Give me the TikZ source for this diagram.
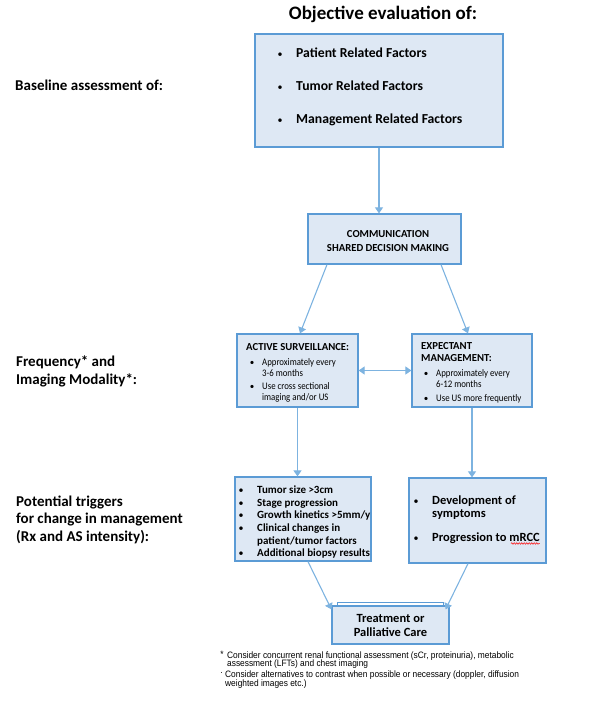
\documentclass[tikz,border=0pt]{standalone}
\usepackage{fontspec}
\setmainfont{Carlito}
\newfontfamily\narrowfont{Carlito}[FakeStretch=0.88]
\newfontfamily\notefont{Liberation Sans}[FakeStretch=0.9]
\usetikzlibrary{arrows.meta,decorations.pathmorphing}
\definecolor{boxfill}{HTML}{DEE8F4}
\definecolor{boxline}{HTML}{5B9BD5}
\definecolor{arrowc}{HTML}{7DB3E0}
\tikzset{
  box/.style={draw=boxline, fill=boxfill, line width=1.2pt, inner sep=0pt, rectangle},
  conn/.style={draw=arrowc, line width=1.1pt, -{Triangle[width=8pt,length=6pt]}},
  dconn/.style={draw=arrowc, line width=1.1pt, {Triangle[width=8pt,length=6pt]}-{Triangle[width=8pt,length=6pt]}},
  txt/.style={inner sep=0pt, text height=.95em, text depth=.15em, anchor=west},
  titletxt/.style={txt, anchor=center, font=\bfseries\fontsize{19}{22}\selectfont},
  side/.style={txt, font=\bfseries\fontsize{15}{18}\selectfont},
  item/.style={txt, font=\bfseries\fontsize{13.7}{16}\selectfont},
  ritem/.style={txt, font=\bfseries\fontsize{12.5}{15}\selectfont},
  bul/.style={txt, anchor=center, font=\fontsize{10}{12}\selectfont},
  head/.style={txt, font=\bfseries\fontsize{10.7}{12}\selectfont},
  small/.style={txt, font=\narrowfont\fontsize{10}{12}\selectfont},
  sbul/.style={txt, anchor=center, font=\fontsize{9}{12}\selectfont},
  trig/.style={txt, font=\bfseries\fontsize{11}{13}\selectfont},
  note/.style={txt, font=\notefont\fontsize{9.3}{9}\selectfont}
}
\begin{document}
\begin{tikzpicture}[x=1pt,y=-1pt]
\useasboundingbox (0,0) rectangle (594,721);

% title
\node[titletxt] (title) at (383,15) {Objective evaluation of:};

% side labels
\node[side] (s1) at (15,86) {Baseline assessment of:};
\node[side] (s2) at (16,362) {Frequency* and};
\node[side] (s3) at (16,380) {Imaging Modality*:};
\node[side] (s4) at (16,502) {Potential triggers};
\node[side] (s5) at (16,519.5) {for change in management};
\node[side] (s6) at (16,537) {(Rx and AS intensity):};

% boxes
\node[box, minimum width=248pt, minimum height=113pt] (topbox) at (379,90.5) {};
\node[box, minimum width=153pt, minimum height=50pt] (comm) at (384.5,239) {};
\node[box, minimum width=121pt, minimum height=73pt] (as) at (297.5,370.5) {};
\node[box, minimum width=120pt, minimum height=73pt] (em) at (472,370.5) {};
\node[box, minimum width=136pt, minimum height=84pt] (trigl) at (303,519) {};
\node[box, minimum width=137pt, minimum height=85pt] (trigr) at (477.5,520.5) {};
\draw[boxline, line width=0.8pt] (337,605) -- (337,602) -- (443,602) -- (443,605);
\node[box, minimum width=117pt, minimum height=38pt] (treat) at (390.5,625) {};

% top box items
\node[bul] (b1) at (280,53) {\textbullet};
\node[item] (i1) at (296,53) {Patient Related Factors};
\node[bul] (b2) at (280,86.5) {\textbullet};
\node[item] (i2) at (296,86.5) {Tumor Related Factors};
\node[bul] (b3) at (280,119) {\textbullet};
\node[item] (i3) at (296,119) {Management Related Factors};

% communication
\node[head, anchor=center] (c1) at (388,233) {COMMUNICATION};
\node[head, anchor=center] (c2) at (388,247) {SHARED DECISION MAKING};

% active surveillance
\node[head] (a0) at (246,346) {ACTIVE SURVEILLANCE:};
\node[sbul] (ab1) at (252,361) {\textbullet};
\node[small] (a1) at (262,361) {Approximately every};
\node[small] (a2) at (262,372) {3-6 months};
\node[sbul] (ab2) at (252,385) {\textbullet};
\node[small] (a3) at (262,385) {Use cross sectional};
\node[small] (a4) at (262,396) {imaging and/or US};

% expectant management
\node[head] (e0) at (421,345) {EXPECTANT};
\node[head] (e1) at (421,357) {MANAGEMENT:};
\node[sbul] (eb1) at (426,372) {\textbullet};
\node[small] (e2) at (436,372) {Approximately every};
\node[small] (e3) at (436,383) {6-12 months};
\node[sbul] (eb2) at (426,397) {\textbullet};
\node[small] (e4) at (436,397) {Use US more frequently};

% triggers left
\node[bul] (tb1) at (241,489.3) {\textbullet};
\node[trig] (t1) at (257,489.3) {Tumor size >3cm};
\node[bul] (tb2) at (241,502) {\textbullet};
\node[trig] (t2) at (257,502) {Stage progression};
\node[bul] (tb3) at (241,514.7) {\textbullet};
\node[trig] (t3) at (257,514.7) {Growth kinetics >5mm/y};
\node[bul] (tb4) at (241,527.4) {\textbullet};
\node[trig] (t4) at (257,527.4) {Clinical changes in};
\node[trig] (t5) at (257,540.1) {patient/tumor factors};
\node[bul] (tb6) at (241,552.8) {\textbullet};
\node[trig] (t6) at (257,552.8) {Additional biopsy results};

% triggers right
\node[bul] (rb1) at (416,500.7) {\textbullet};
\node[ritem] (r1) at (432,500.7) {Development of};
\node[ritem] (r2) at (432,513.5) {symptoms};
\node[bul] (rb2) at (416,537) {\textbullet};
\node[ritem] (r3) at (432,537) {Progression to mRCC};
\draw[red, line width=0.5pt, decorate, decoration={snake, amplitude=0.8pt, segment length=2.5pt}]
  ([xshift=-29pt, yshift=-2.5pt]r3.base east) -- ([yshift=-2.5pt]r3.base east);

% treatment
\node[ritem, anchor=center] (tr1) at (390.5,618) {Treatment or};
\node[ritem, anchor=center] (tr2) at (390.5,632) {Palliative Care};

% notes
\node[note, anchor=center] (n0) at (222,653) {*};
\node[note] (n1) at (227,654) {Consider concurrent renal functional assessment (sCr, proteinuria), metabolic};
\node[note] (n2) at (227,662.5) {assessment (LFTs) and chest imaging};
\node[note, anchor=center] (n3) at (221.5,671) {\textperiodcentered};
\node[note] (n4) at (225,673) {Consider alternatives to contrast when possible or necessary (doppler, diffusion};
\node[note] (n5) at (225,682) {weighted images etc.)};

% connectors
\draw[conn] (topbox.south) -- (topbox.south |- comm.north);
\draw[conn] ([xshift=-57.5pt]comm.south) -- ([xshift=2.5pt]as.north);
\draw[conn] ([xshift=56.5pt]comm.south) -- ([xshift=-4pt]em.north);
\draw[dconn] (as.east) -- (em.west);
\draw[conn] (as.south) -- (as.south |- trigl.north);
\draw[conn] (em.south) -- (em.south |- trigr.north);
\draw[conn] ([xshift=5pt]trigl.south) -- ([yshift=-4pt]treat.north west);
\draw[conn] ([xshift=-9.5pt]trigr.south) -- ([xshift=-4pt,yshift=-4pt]treat.north east);
\end{tikzpicture}
\end{document}
